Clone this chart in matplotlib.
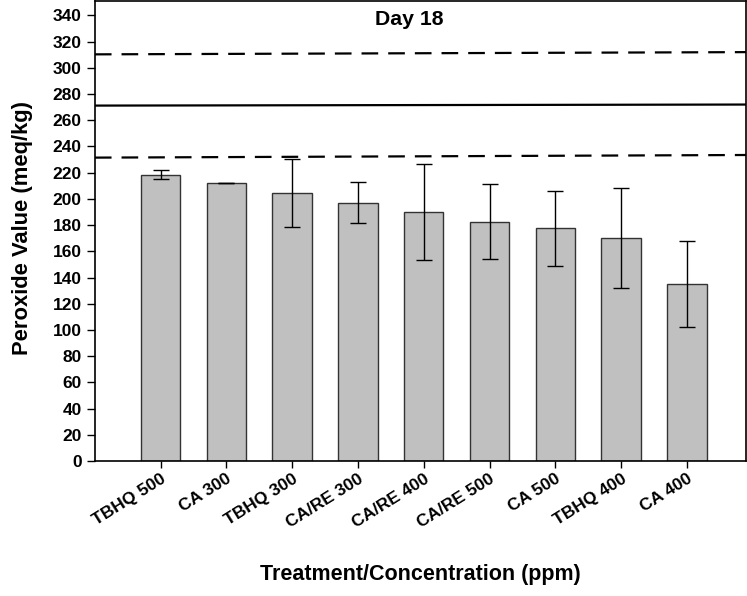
import numpy as np
import matplotlib
matplotlib.use("Agg")
import matplotlib.pyplot as plt

plt.rcParams['font.family'] = ['Liberation Sans', 'DejaVu Sans']
plt.rcParams['font.weight'] = 'bold'

# Day 18 peroxide values per treatment
treatments = ["TBHQ 500", "CA 300", "TBHQ 300", "CA/RE 300", "CA/RE 400",
              "CA/RE 500", "CA 500", "TBHQ 400", "CA 400"]
means = [218.5, 212.5, 204.5, 197, 190, 182.5, 177.5, 170, 135]
errors = [3.5, 0, 26, 15.7, 37, 28.5, 28.5, 38, 33]

# control mean and its bounds (left end, right end)
control_mean = [271.2, 272.0]
control_upper = [310.3, 312.0]
control_lower = [231.5, 233.5]


fig = plt.figure(figsize=(7.47, 5.96), dpi=100)
ax = fig.add_axes([0.127, 0.2265, 0.8717, 0.7718])

x = np.arange(1, len(treatments) + 1)
xlim = (0, 9.9)

ax.bar(x, means, width=0.6, color='#c0c0c0', edgecolor='#333333', linewidth=1.0, zorder=2)
ax.errorbar(x, means, yerr=errors, fmt='none', ecolor='black', elinewidth=1.0,
            capsize=5.5, capthick=1.0, zorder=3)

ax.plot(xlim, control_mean, color='black', linewidth=1.6, solid_capstyle='butt', zorder=1)
ax.plot(xlim, control_upper, color='black', linewidth=1.6, dashes=(7.5, 4.5), zorder=1)
ax.plot(xlim, control_lower, color='black', linewidth=1.6, dashes=(7.5, 4.5), zorder=1)

ax.set_xlim(*xlim)
ax.set_ylim(0, 351)
ax.set_yticks(np.arange(0, 341, 20))
ax.set_xticks(x)
ax.set_xticklabels(treatments, rotation=32, ha='right', va='top', rotation_mode='anchor',
                   fontsize=12.5, fontweight='bold')
ax.tick_params(axis='y', labelsize=12.5, length=5.5, width=1, direction='out', pad=4)
ax.tick_params(axis='x', length=5, width=1, direction='out', pad=2.5)
ax.tick_params(top=False, right=False)
for s in ax.spines.values():
    s.set_linewidth(1.2)

ax.text(4.78, 333, "Day 18", ha='center', va='baseline', fontsize=15.3, fontweight='bold')

ax.set_ylabel("Peroxide Value (meq/kg)", fontsize=15.8, fontweight='bold')
ax.set_xlabel("Treatment/Concentration (ppm)", fontsize=15.5, fontweight='bold')
ax.yaxis.set_label_coords(-0.095, 0.507)
ax.xaxis.set_label_coords(0.5, -0.223)

fig.savefig("out.png", dpi=100)
